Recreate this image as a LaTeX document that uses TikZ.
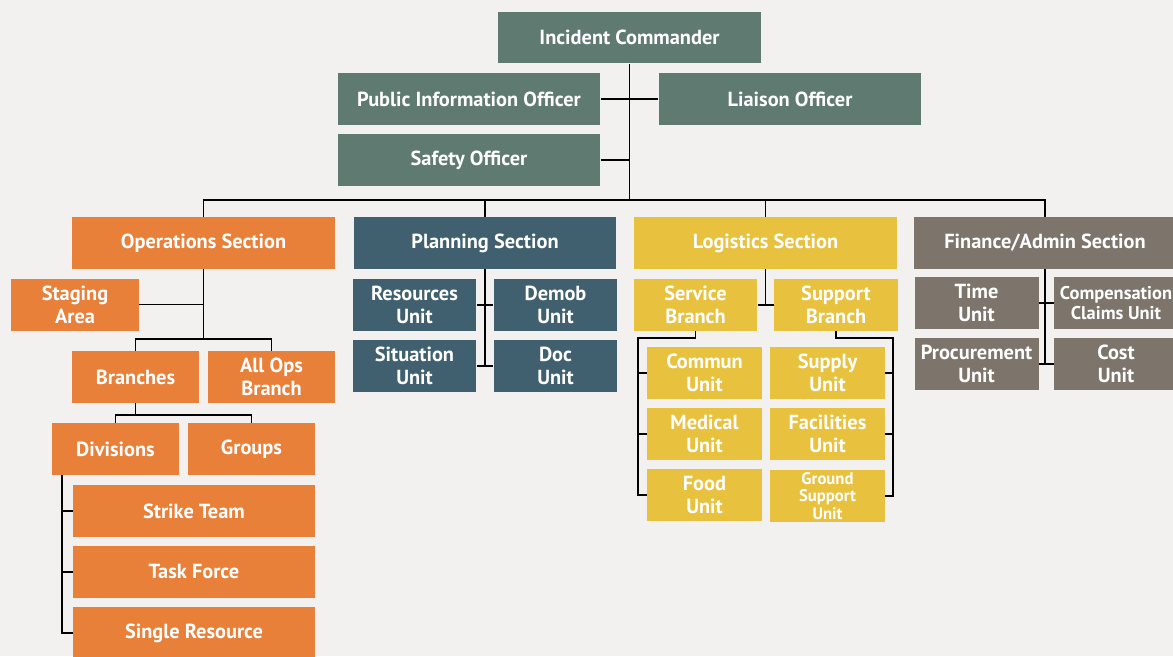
\documentclass[tikz,border=0pt]{standalone}
\usepackage{fontspec}
\setmainfont{PT Sans}
\usetikzlibrary{positioning}
\definecolor{cmdgreen}{HTML}{5F7A71}
\definecolor{opsorange}{HTML}{E8803A}
\definecolor{planblue}{HTML}{40606F}
\definecolor{logyellow}{HTML}{E8C23E}
\definecolor{fingray}{HTML}{7D746C}
\definecolor{paper}{HTML}{F2F1EF}
\tikzset{x=0.02cm, y=-0.02cm, % one unit per pixel, y running down
box/.style={rectangle, inner sep=0pt, text=white, align=center,
  font=\bfseries\fontsize{11.6}{13}\selectfont, minimum height=1.04cm}, % every box of the chart
wide/.style={box, minimum width=5.26cm}, % commander, officers and sections
half/.style={box, minimum width=2.48cm}, % units and branches
small/.style={box, minimum width=2.3cm}, % logistics units
link/.style={draw=black, line width=1pt}, % connectors
}

\begin{document}
\begin{tikzpicture}
\useasboundingbox[fill=paper] (0,0) rectangle (1173,656);
% command staff
\node[wide, fill=cmdgreen] (ic) at (629.5,37.5) {Incident Commander};
\node[wide, fill=cmdgreen] (pio) at (469,99) {Public Information Officer};
\node[wide, fill=cmdgreen] (liaison) at (790,99) {Liaison Officer};
\node[wide, fill=cmdgreen] (safety) at (469,160) {Safety Officer};
% sections
\node[wide, fill=opsorange] (ops) at (203.5,243) {Operations Section};
\node[wide, fill=planblue] (plan) at (485,243) {Planning Section};
\node[wide, fill=logyellow] (logi) at (765.5,243) {Logistics Section};
\node[wide, fill=fingray] (fin) at (1045,243) {Finance/Admin Section};
% operations
\node[half, fill=opsorange, minimum width=2.56cm] (staging) at (75,304.5) {Staging\\Area};
\node[half, fill=opsorange, minimum width=2.54cm] (branches) at (135.5,377) {Branches};
\node[half, fill=opsorange, minimum width=2.54cm] (allops) at (271.5,377) {All Ops\\Branch};
\node[half, fill=opsorange, minimum width=2.54cm] (divisions) at (115.5,449) {Divisions};
\node[half, fill=opsorange, minimum width=2.54cm] (groups) at (251.5,449) {Groups};
\node[box, fill=opsorange, minimum width=4.84cm] (strike) at (194,511) {Strike Team};
\node[box, fill=opsorange, minimum width=4.84cm] (task) at (194,572) {Task Force};
\node[box, fill=opsorange, minimum width=4.84cm] (single) at (194,633) {Single Resource};
% planning
\node[half, fill=planblue] (resources) at (414.5,305) {Resources\\Unit};
\node[half, fill=planblue] (demob) at (555.5,305) {Demob\\Unit};
\node[half, fill=planblue] (situation) at (414.5,366) {Situation\\Unit};
\node[half, fill=planblue] (doc) at (555.5,366) {Doc\\Unit};
% logistics
\node[half, fill=logyellow] (service) at (695.5,305) {Service\\Branch};
\node[half, fill=logyellow] (support) at (836,305) {Support\\Branch};
\node[small, fill=logyellow] (commun) at (704.5,373) {Commun\\Unit};
\node[small, fill=logyellow] (medical) at (704.5,434) {Medical\\Unit};
\node[small, fill=logyellow] (food) at (704.5,495) {Food\\Unit};
\node[small, fill=logyellow] (supply) at (827.5,373) {Supply\\Unit};
\node[small, fill=logyellow] (facilities) at (827.5,434) {Facilities\\Unit};
\node[small, fill=logyellow, font=\bfseries\fontsize{9.5}{10}\selectfont] (ground) at (827.5,496) {Ground\\Support\\Unit};
% finance
\node[half, fill=fingray] (time) at (976.5,303) {Time\\Unit};
\node[half, fill=fingray, font=\bfseries\fontsize{10.5}{11.5}\selectfont] (comp) at (1116,303) {Compensation\\Claims Unit};
\node[half, fill=fingray] (procure) at (976.5,364) {Procurement\\Unit};
\node[half, fill=fingray] (cost) at (1116,364) {Cost\\Unit};

\coordinate (bus) at (629.5,200);
\coordinate (opsfork) at (203.5,339);
\coordinate (brfork) at (135.5,415);
\coordinate (divline) at (62,475);
\coordinate (svcline) at (638,338);
\coordinate (supline) at (893,338);

% command lines
\draw[link] (ic.south) -- (bus);
\draw[link] (pio.east) -- (pio.east -| bus);
\draw[link] (liaison.west) -- (liaison.west -| bus);
\draw[link] (safety.east) -- (safety.east -| bus);
\draw[link] (ops.north) |- (bus) -| (fin.north);
\draw[link] (plan.north) -- (plan.north |- bus);
\draw[link] (logi.north) -- (logi.north |- bus);
% operations lines
\draw[link] (ops.south) -- (opsfork);
\draw[link] (staging.east) -- (staging.east -| opsfork);
\draw[link] (branches.north) |- (opsfork) -| (allops.north);
\draw[link] (branches.south) -- (brfork);
\draw[link] (divisions.north) |- (brfork) -| (groups.north);
\draw[link] (divline) |- (single.west);
\draw[link] (divline |- strike.west) -- (strike.west);
\draw[link] (divline |- task.west) -- (task.west);
% planning lines
\draw[link] (plan.south) -- (plan.south |- doc.west);
\draw[link] (resources.east) -- (demob.west);
\draw[link] (situation.east) -- (doc.west);
% logistics lines
\draw[link] (logi.south) -- (logi.south |- service.east);
\draw[link] (service.east) -- (support.west);
\draw[link] (service.south) |- (svcline) |- (food.west);
\draw[link] (svcline |- commun.west) -- (commun.west);
\draw[link] (svcline |- medical.west) -- (medical.west);
\draw[link] (support.south) |- (supline) |- (ground.east);
\draw[link] (supline |- supply.east) -- (supply.east);
\draw[link] (supline |- facilities.east) -- (facilities.east);
% finance lines
\draw[link] (fin.south) -- (fin.south |- procure.east);
\draw[link] (time.east) -- (comp.west);
\draw[link] (procure.east) -- (cost.west);
\end{tikzpicture}
\end{document}
